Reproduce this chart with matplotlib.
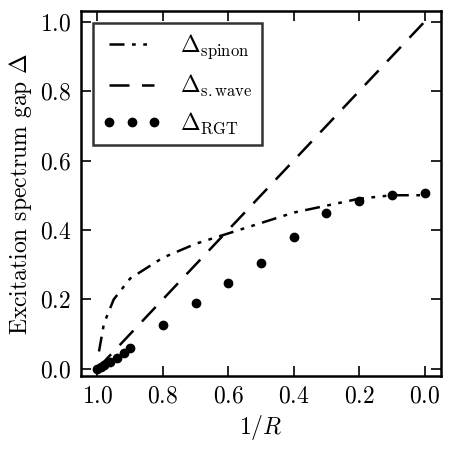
import matplotlib
matplotlib.use('Agg')
import matplotlib.pyplot as plt

plt.rcParams['font.family'] = 'serif'
plt.rcParams['font.serif'] = ['cmr10', 'DejaVu Serif']
plt.rcParams['mathtext.fontset'] = 'cm'
plt.rcParams['axes.formatter.use_mathtext'] = True
plt.rcParams['font.size'] = 17

# spinon gap curve
spin_x = [0.995, 0.98, 0.95, 0.9, 0.8, 0.7, 0.6, 0.5, 0.4, 0.3, 0.2, 0.1, 0.0]
spin_y = [0.05, 0.13, 0.2, 0.26, 0.32, 0.36, 0.39, 0.42, 0.45, 0.47, 0.49, 0.5, 0.5]
# s-wave gap
swave_x = [1.0, 0.0]
swave_y = [0.0, 1.0]
# RGT points
rgt_x = [1.0, 0.99, 0.98, 0.96, 0.94, 0.92, 0.9, 0.8, 0.7, 0.6, 0.5, 0.4, 0.3, 0.2, 0.1, 0.0]
rgt_y = [0.0, 0.005, 0.01, 0.02, 0.03, 0.045, 0.06, 0.127, 0.19, 0.246, 0.304, 0.38, 0.449, 0.483, 0.5, 0.506]

fig = plt.figure(figsize=(4.5, 4.5), dpi=100)
ax = fig.add_axes([0.18, 0.165, 0.80, 0.81])
ax.plot(spin_x, spin_y, 'k', lw=1.8, dashes=[6, 3, 1.5, 3, 1.5, 3], label=r'$\Delta_{\rm spinon}$')
ax.plot(swave_x, swave_y, 'k', lw=1.8, dashes=[8, 5], label=r'$\Delta_{\rm s.wave}$')
ax.plot(rgt_x, rgt_y, 'ko', ms=6, ls='none', label=r'$\Delta_{\rm RGT}$')

ax.set_xlim(1.05, -0.05)
ax.set_ylim(-0.02, 1.03)
ax.set_xticks([1.0, 0.8, 0.6, 0.4, 0.2, 0.0])
ax.set_yticks([0.0, 0.2, 0.4, 0.6, 0.8, 1.0])
ax.tick_params(direction='in', top=True, right=True, length=7, width=1.2, pad=7)
for s in ax.spines.values():
    s.set_linewidth(1.8)
ax.set_xlabel(r'$1/R$')
ax.set_ylabel(r'Excitation spectrum gap $\Delta$')
leg = ax.legend(loc='upper left', frameon=True, fancybox=False, edgecolor='k',
                numpoints=3, handlelength=2.5, fontsize=17)
leg.get_frame().set_linewidth(1.8)
plt.savefig('out.png', dpi=100)
